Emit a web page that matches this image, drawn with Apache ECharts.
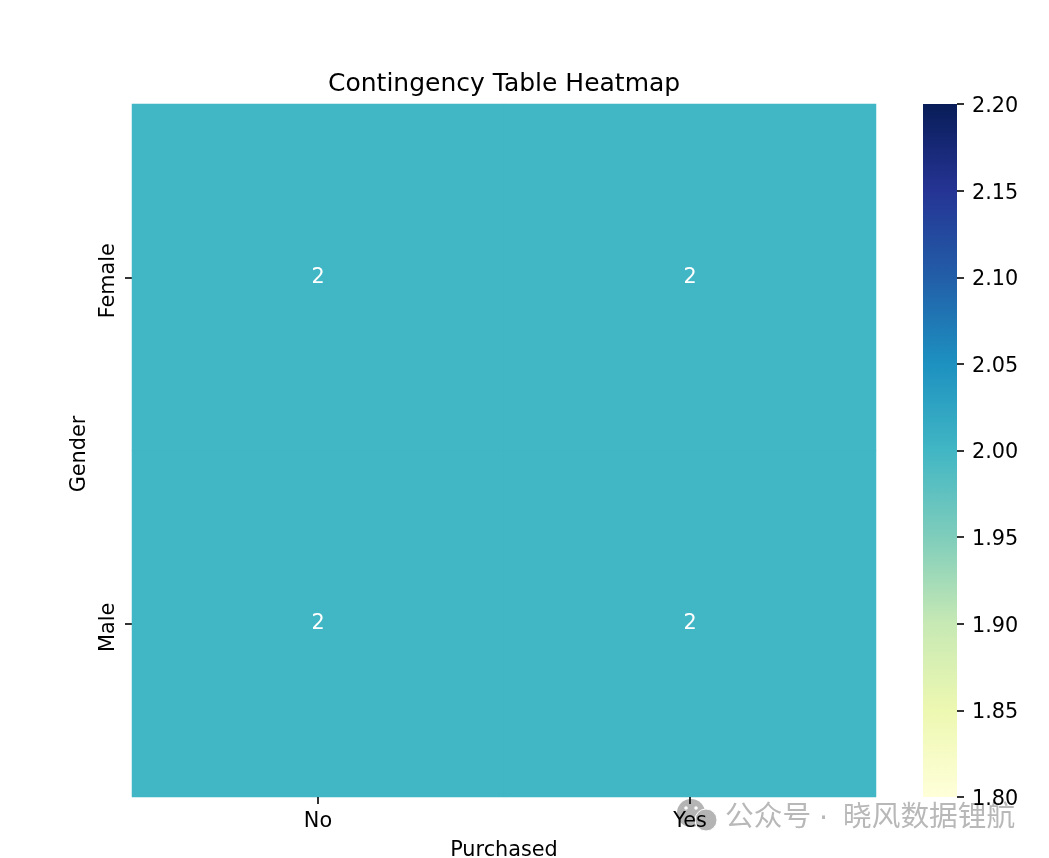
<!DOCTYPE html>
<html><head><meta charset="utf-8">
<style>html,body{margin:0;padding:0;background:#fff}#c{width:1049px;height:858px}</style>
<script src="https://cdn.jsdelivr.net/npm/echarts@6/dist/echarts.min.js"></script>
</head><body><div id="c"></div>
<script>
const purchased = ['No', 'Yes'];
const gender = ['Female', 'Male'];
const counts = [[0, 0, 2], [1, 0, 2], [0, 1, 2], [1, 1, 2]];
const colorMin = 1.8, colorMax = 2.2, colorStep = 0.05;
const ylGnBu = ['#ffffd9','#edf8b1','#c7e9b4','#7fcdbb','#41b6c4','#1d91c0','#225ea8','#253494','#081d58'];
const font = 'DejaVu Sans';
const chart = echarts.init(document.getElementById('c'), null, {renderer: 'canvas'});
const tick = {show: true, length: 7, lineStyle: {color: '#000', width: 1.6}};
const mark = '#b4b4b4';
const barFill = new echarts.graphic.LinearGradient(0, 1, 0, 0,
  ylGnBu.map((color, i) => ({offset: i / (ylGnBu.length - 1), color})));
chart.setOption({
  animation: false,
  backgroundColor: '#fff',
  title: {text: 'Contingency Table Heatmap', left: 323, top: 67,
    textStyle: {fontFamily: font, fontSize: 25, fontWeight: 'normal', color: '#000'}},
  grid: [
    {left: 132, top: 104, width: 744, height: 693, outerBoundsMode: 'none', show: true,
     backgroundColor: ylGnBu[4], borderWidth: 0},
    {left: 923, top: 104, width: 34, height: 693, outerBoundsMode: 'none', show: true,
     backgroundColor: barFill, borderWidth: 0}
  ],
  xAxis: [
    {type: 'category', gridIndex: 0, z: 5, data: purchased, name: 'Purchased', nameLocation: 'middle', nameGap: 43,
     nameTextStyle: {fontFamily: font, fontSize: 20.8, color: '#000'},
     axisLine: {show: false}, axisTick: Object.assign({alignWithLabel: true}, tick),
     axisLabel: {fontFamily: font, fontSize: 20.8, color: '#000', margin: 14}, splitLine: {show: false}},
    {type: 'value', gridIndex: 1, show: false, min: 0, max: 1}
  ],
  yAxis: [
    {type: 'category', gridIndex: 0, data: gender, inverse: true, name: 'Gender', nameLocation: 'middle', nameGap: 42,
     nameTextStyle: {fontFamily: font, fontSize: 20.8, color: '#000', padding: [0, 7, 0, 0]},
     axisLine: {show: false}, axisTick: Object.assign({alignWithLabel: true}, tick),
     axisLabel: {fontFamily: font, fontSize: 20.8, color: '#000', rotate: 90, margin: 13, padding: [0, 7, 0, 0]}, splitLine: {show: false}},
    {type: 'value', gridIndex: 1, position: 'right', min: colorMin, max: colorMax, interval: colorStep, z: 30,
     axisLine: {show: false, onZero: false}, axisTick: tick, splitLine: {show: false},
     axisLabel: {color: '#000', margin: 15,
       formatter: v => '{v|' + v.toFixed(2) + '}',
       rich: {v: {fontFamily: font, fontSize: 20.8, color: '#000', padding: [5, 0, 0, 0]}}}}
  ],
  visualMap: {
    type: 'continuous', show: false, min: colorMin, max: colorMax, seriesIndex: 0,
    inRange: {color: ylGnBu}
  },
  series: [{
    type: 'heatmap', xAxisIndex: 0, yAxisIndex: 0, data: counts,
    label: {show: true, color: '#fff', fontFamily: font, fontSize: 20.8},
    itemStyle: {borderWidth: 0}
  }],
  graphic: [
    {type: 'circle', shape: {cx: 691, cy: 813, r: 14}, style: {fill: mark}, z: 1},
    {type: 'circle', shape: {cx: 686, cy: 808, r: 1.8}, style: {fill: '#fff'}, z: 1},
    {type: 'circle', shape: {cx: 696, cy: 808, r: 1.8}, style: {fill: '#fff'}, z: 1},
    {type: 'circle', shape: {cx: 706, cy: 820, r: 11}, style: {fill: mark, stroke: '#fff', lineWidth: 1}, z: 1},
    {type: 'text', x: 725, y: 815, z: 1,
     style: {text: '公众号', fill: '#b8b8b8', font: '28.7px "Noto Sans CJK SC"', textVerticalAlign: 'middle'}},
    {type: 'text', x: 819, y: 820, z: 1,
     style: {text: '·', fill: '#b8b8b8', font: '28.7px "DejaVu Sans"', textVerticalAlign: 'middle'}},
    {type: 'text', x: 843, y: 815, z: 1,
     style: {text: '晓风数据锂航', fill: '#b8b8b8', font: '28.7px "Noto Sans CJK SC"', textVerticalAlign: 'middle'}}
  ]
});
</script></body></html>
